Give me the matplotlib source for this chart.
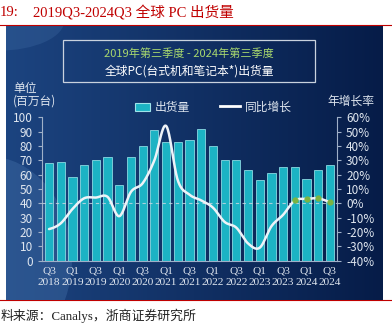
import numpy as np
import matplotlib
matplotlib.use("Agg")
import matplotlib.pyplot as plt
from matplotlib.patches import Rectangle, Ellipse
from matplotlib.lines import Line2D

plt.rcParams['font.family'] = ['Noto Sans CJK SC', 'DejaVu Sans']

# quarterly shipments (million units) and yoy growth (%), Q3 2018 .. Q3 2024
shipments = [68, 68.5, 58, 67, 70.5, 72, 53, 72.5, 80, 91, 82.5, 82.5, 84,
             92, 80, 70.5, 70.5, 63.5, 56, 61, 65.5, 65, 57, 63.5, 67]
yoy = [-18, -14, -4, 3.5, 4, 4.5, -9, 8, 14, 30, 54, 16, 6,
       2, -3, -13, -17, -28, -31, -16, -8, 2, 3, 3.5, 1]
tick_labels = ["Q3\n2018", "Q1\n2019", "Q3\n2019", "Q1\n2020", "Q3\n2020",
               "Q1\n2021", "Q3\n2021", "Q1\n2022", "Q3\n2022", "Q1\n2023",
               "Q3\n2023", "Q1\n2024", "Q3\n2024"]
recent_dots = [21, 22, 23, 24]

W, H = 392, 325
def fx(x): return x / W
def fy(y): return 1 - y / H

serif = ['Liberation Serif', 'Noto Sans CJK SC']

fig = plt.figure(figsize=(W / 100, H / 100), dpi=100)
fig.patch.set_facecolor('white')

# title and source (the original crop starts mid-word on the left)
fig.text(fx(0), fy(13), "19:", color='#c00000', fontsize=10.5, family=serif, va='center')
fig.text(fx(33), fy(13), "2019Q3-2024Q3 全球 PC 出货量", color='#c00000', fontsize=10.5,
         family=serif, va='center')
fig.add_artist(Line2D([0, 1], [fy(25), fy(25)], color='#c00000', lw=0.8))
fig.add_artist(Line2D([0, 1], [fy(299.5), fy(299.5)], color='#c00000', lw=0.8, zorder=-5))
fig.text(fx(1), fy(316), "料来源：Canalys，浙商证券研究所", color='#222222', fontsize=9.3,
         family=serif, va='center')

# dark blue panel
bg = fig.add_axes([fx(6), fy(300), fx(377), 274 / H])
grad = np.linspace(0, 1, 256)
c0 = np.array([0x1c, 0x44, 0x80]) / 255
c1 = np.array([0x06, 0x1c, 0x48]) / 255
img = c0[None, :] * (1 - grad[:, None]) + c1[None, :] * grad[:, None]
bg.imshow(img[None, :, :], aspect='auto', extent=[0, 1, 0, 1])
bg.add_patch(Ellipse((-0.05, 0.15), 0.45, 0.75, color='#4a78b0', alpha=0.35, lw=0))
bg.add_patch(Ellipse((-0.02, 1.02), 0.35, 0.22, color='#4a78b0', alpha=0.25, lw=0))
bg.set_xlim(0, 1)
bg.set_ylim(0, 1)
bg.axis('off')

# header box
fig.add_artist(Rectangle((fx(63), fy(82)), fx(252), 42 / H, fill=False,
                         edgecolor='#c9d2de', lw=0.9))
fig.text(fx(189), fy(54), "2019年第三季度 - 2024年第三季度", color='#a8d86e',
         fontsize=8, ha='center', va='center')
fig.text(fx(189), fy(71), "全球PC(台式机和笔记本*)出货量", color='white',
         fontsize=8.5, ha='center', va='center')

txt = '#dfe6ef'
fig.text(fx(13), fy(95), "单位\n(百万台)", color=txt, fontsize=8.5, va='center',
         linespacing=1.0)
fig.text(fx(351), fy(101), "年增长率", color=txt, fontsize=8.5, ha='center', va='center')

# legend
fig.add_artist(Rectangle((fx(135), fy(111)), fx(15), 8 / H, facecolor='#1cb3c4',
                         edgecolor='#9fe3ea', lw=0.8))
fig.text(fx(155), fy(107), "出货量", color=txt, fontsize=8.5, va='center')
fig.add_artist(Line2D([fx(220), fx(240)], [fy(106), fy(106)], color='white', lw=2))
fig.text(fx(245), fy(107), "同比增长", color=txt, fontsize=8.5, va='center')

ax = fig.add_axes([fx(42), fy(260.6), fx(295), 143.3 / H])
ax.patch.set_alpha(0)
x = np.arange(len(shipments))
ax.bar(x, shipments, width=0.7, color='#1cb3c4', edgecolor='#8ad9e2', lw=0.6)
ax.set_xlim(-0.6, 24.6)
ax.set_ylim(0, 100)
ax.set_yticks(range(0, 101, 10))
ax.set_xticks(range(0, 25, 2))
ax.set_xticklabels(tick_labels, linespacing=1.4, family=serif, fontsize=8.2)

ax2 = ax.twinx()
ax2.set_ylim(-40, 60)
ax2.set_yticks(range(-40, 61, 10))
ax2.set_yticklabels([f"{v}%" for v in range(-40, 61, 10)])
ax2.axhline(0, color='#cfd8e3', lw=0.8, ls=(0, (3, 3)), alpha=0.8)

# smooth the yoy curve (catmull-rom through the read points)
pts = np.array(yoy, dtype=float)
xs, ys = [], []
p = np.concatenate([[pts[0]], pts, [pts[-1]]])
for i in range(len(pts) - 1):
    p0, p1, p2, p3 = p[i], p[i + 1], p[i + 2], p[i + 3]
    t = np.linspace(0, 1, 20, endpoint=False)
    yy = 0.5 * (2 * p1 + (-p0 + p2) * t + (2 * p0 - 5 * p1 + 4 * p2 - p3) * t ** 2
                + (-p0 + 3 * p1 - 3 * p2 + p3) * t ** 3)
    xs.extend(i + t)
    ys.extend(yy)
xs.append(len(pts) - 1)
ys.append(pts[-1])
ax2.plot(xs, ys, color='#eef3f8', lw=1.8, solid_capstyle='round')
ax2.plot(recent_dots, [yoy[i] for i in recent_dots], 'o', color='#7cb342', ms=3.5)

for a in (ax, ax2):
    a.spines['top'].set_visible(False)
    for s in ('left', 'right', 'bottom'):
        a.spines[s].set_color('#9fb0c8')
        a.spines[s].set_linewidth(0.8)
    a.tick_params(colors='#9fb0c8', labelcolor=txt, labelsize=8.5, length=3, width=0.8)
ax.tick_params(axis='x', length=0, pad=4, labelsize=8.2)
ax.spines['right'].set_visible(False)
ax2.spines['left'].set_visible(False)
ax2.spines['bottom'].set_visible(False)

fig.savefig("out.png", dpi=100)
